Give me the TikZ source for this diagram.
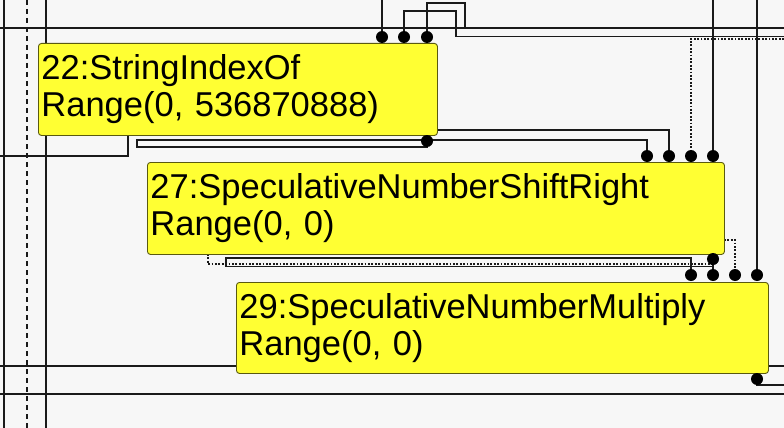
\documentclass[tikz,border=0pt]{standalone}
\usepackage{fontspec}
\setmainfont{Liberation Sans}
\pgfdeclarelayer{bg}
\pgfdeclarelayer{edges}
\pgfsetlayers{bg,edges,main}
\definecolor{nodefill}{HTML}{FFFF33}
\definecolor{nodeline}{HTML}{5A5A10}
\definecolor{wire}{HTML}{1A1A1A}
\definecolor{paper}{HTML}{F7F7F7}
\begin{document}
\begin{tikzpicture}[x=1pt,y=-1pt,
  opnode/.style={draw=nodeline, fill=nodefill, rounded corners=3pt, line width=0.9pt,
    anchor=north west, align=left, inner xsep=3pt, inner ysep=0pt,
    font=\fontsize{34.5}{37}\selectfont},
  portdot/.style={circle, fill=black, inner sep=0pt, minimum size=12pt},
  wireline/.style={draw=wire, line width=1.8pt},
  dottedwire/.style={draw=wire, line width=1.8pt, dash pattern=on 1.8pt off 1.6pt},
  dashedwire/.style={draw=wire, line width=1.8pt, dash pattern=on 5pt off 4pt}
]
\useasboundingbox (0,0) rectangle (784,428);
\begin{pgfonlayer}{bg}
  \fill[paper] (0,0) rectangle (784,428);
\end{pgfonlayer}

% nodes
\node[opnode, text width=393pt, minimum height=92pt] (n22) at (38,43)
  {22:StringIndexOf\\Range(0, 536870888)};
\node[opnode, text width=571pt, minimum height=92pt] (n27) at (147,162)
  {27:SpeculativeNumberShiftRight\\Range(0, 0)};
\node[opnode, text width=526pt, minimum height=91pt] (n29) at (236,282)
  {29:SpeculativeNumberMultiply\\Range(0, 0)};

% ports
\node[portdot] (i22a) at (382,37) {};
\node[portdot] (i22b) at (404,37) {};
\node[portdot] (i22c) at (427,37) {};
\node[portdot] (o22) at (427,141) {};
\node[portdot] (i27a) at (647,156) {};
\node[portdot] (i27b) at (669,156) {};
\node[portdot] (i27c) at (691,156) {};
\node[portdot] (i27d) at (713,156) {};
\node[portdot] (o27) at (713,259) {};
\node[portdot] (i29a) at (691,275) {};
\node[portdot] (i29b) at (713,275) {};
\node[portdot] (i29c) at (735,275) {};
\node[portdot] (i29d) at (757,275) {};
\node[portdot] (o29) at (757,379) {};

% free ends
\coordinate (t382) at (382,0);
\coordinate (t713) at (713,0);
\coordinate (t757) at (757,0);
\coordinate (r37) at (784,36.5);
\coordinate (r38) at (784,38.8);
\coordinate (l156) at (0,156);
\coordinate (r385) at (784,385);

\begin{pgfonlayer}{edges}
  % left verticals
  \draw[wireline] (4,0) -- (4,428);
  \draw[dashedwire] (27,0) -- (27,428);
  \draw[wireline] (46,0) -- (46,428);
  % long horizontals
  \draw[wireline] (0,28) -- (784,28);
  \draw[wireline] (0,366) -- (784,366);
  \draw[wireline] (0,394) -- (784,394);
  % top inputs of 22
  \draw[wireline] (t382) -- (i22a);
  \draw[wireline] (i22b) |- (456,11) |- (r37);
  \draw[wireline] (i22c) |- (465,3) -- (465,28);
  % right verticals
  \draw[wireline] (t713) -- (i27d);
  \draw[wireline] (t757) -- (i29d);
  \draw[dottedwire] (r38) -| (i27c);
  % from 22
  \draw[wireline] (n22.south west) ++(90,0) |- (l156);
  \draw[wireline] (437,130) -| (i27b);
  \draw[wireline] (o22) |- (137,147) |- (i27a.north |- 0,140) -- (i27a);
  % from 27
  \draw[dottedwire] (724,240) -| (i29c);
  \draw[wireline] (o27) -- (i29b);
  \draw[wireline] (o27) |- (226,266.5) |- (i29a.north |- 0,258) -- (i29a);
  \draw[dottedwire] (208,254) |- (713,264);
  % from 29
  \draw[wireline] (o29) |- (r385);
\end{pgfonlayer}
\end{tikzpicture}
\end{document}
